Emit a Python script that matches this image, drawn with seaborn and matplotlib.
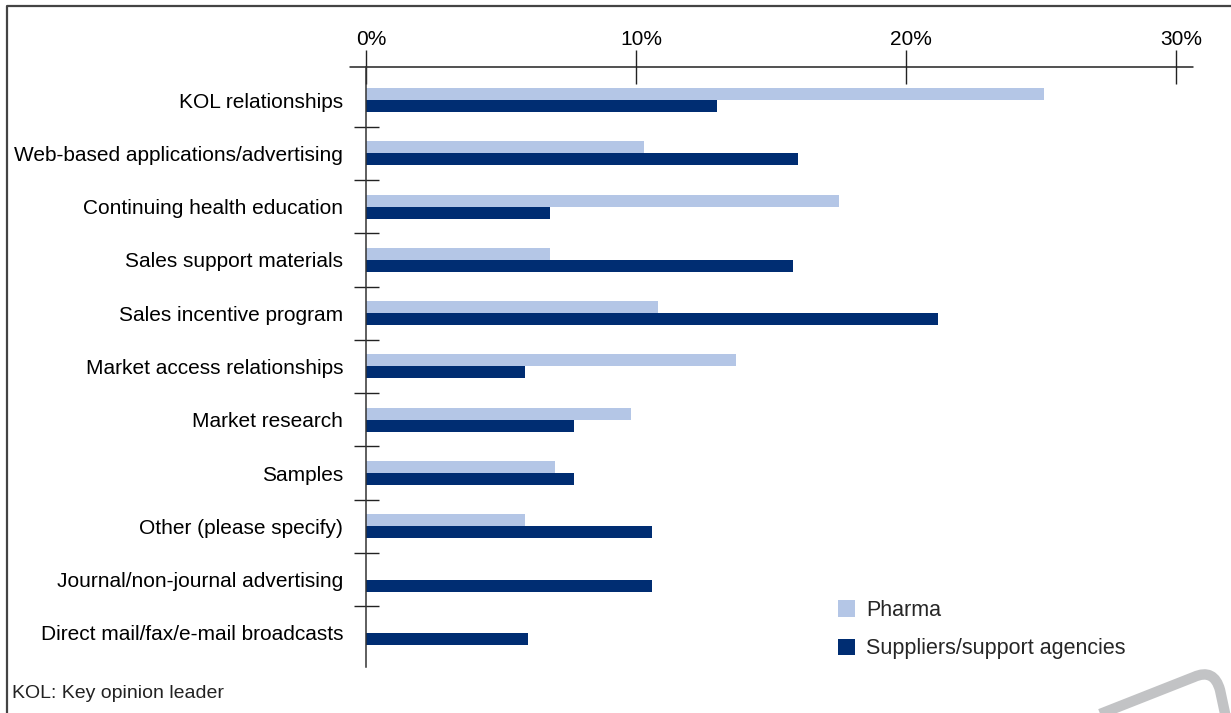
import matplotlib
matplotlib.use("Agg")
import matplotlib.pyplot as plt
import matplotlib.transforms as mtransforms
import seaborn as sns
import pandas as pd
import numpy as np
from matplotlib.path import Path
from matplotlib.patches import PathPatch
from matplotlib.lines import Line2D

categories = [
    "KOL relationships",
    "Web-based applications/advertising",
    "Continuing health education",
    "Sales support materials",
    "Sales incentive program",
    "Market access relationships",
    "Market research",
    "Samples",
    "Other (please specify)",
    "Journal/non-journal advertising",
    "Direct mail/fax/e-mail broadcasts",
]
pharma = [25.1, 10.3, 17.5, 6.8, 10.8, 13.7, 9.8, 7.0, 5.9, 0.0, 0.0]
suppliers = [13.0, 16.0, 6.8, 15.8, 21.2, 5.9, 7.7, 7.7, 10.6, 10.6, 6.0]
series_names = ["Pharma", "Suppliers/support agencies"]
x_ticks = [0, 10, 20, 30]
x_tick_labels = ["0%", "10%", "20%", "30%"]
footnote = "KOL: Key opinion leader"

LIGHT = "#B4C6E6"
NAVY = "#002D72"
W, H = 1231, 713
FS = 15

sns.set_theme(style="white")
plt.rcParams["font.family"] = ["Liberation Sans", "DejaVu Sans"]

df = pd.DataFrame({
    "category": categories * 2,
    "value": pharma + suppliers,
    "series": [series_names[0]] * len(categories) + [series_names[1]] * len(categories),
})

fig = plt.figure(figsize=(W / 100, H / 100), dpi=100)
ax = fig.add_axes([366 / W, 1 - 667 / H, (1176 - 366) / W, (667 - 67) / H])

sns.barplot(data=df, y="category", x="value", hue="series", hue_order=series_names,
            order=categories, palette=[LIGHT, NAVY], width=0.45, orient="h",
            saturation=1, linewidth=0, ax=ax, legend=True)

ax.set_xlim(0, 30)
ax.set_ylim(10.64, -0.62)
ax.set_xlabel("")
ax.set_ylabel("")

for s in ["right", "bottom", "top"]:
    ax.spines[s].set_visible(False)
ax.spines["left"].set_color("#333333")
ax.spines["left"].set_linewidth(1.1)

# top axis line extending a bit beyond the plot
ax.plot([(350 - 366) / 810, (1193 - 366) / 810], [1, 1], transform=ax.transAxes,
        color="#222222", lw=1.1, clip_on=False)

ax.xaxis.tick_top()
ax.set_xticks(x_ticks)
ax.set_xticklabels(x_tick_labels)
ax.tick_params(axis="x", direction="inout", length=24.5, width=1.0, color="#222222",
               pad=1, labelsize=FS, labelcolor="black")
shift = mtransforms.ScaledTranslation(5 / 100, 0, fig.dpi_scale_trans)
for lbl in ax.get_xticklabels():
    lbl.set_transform(lbl.get_transform() + shift)

ax.set_yticks(range(len(categories)))
ax.set_yticklabels(categories)
ax.tick_params(axis="y", which="major", length=0, pad=16.5, labelsize=FS, labelcolor="black")
ax.set_yticks(np.arange(0.5, len(categories) - 1, 1.0), minor=True)
ax.tick_params(axis="y", which="minor", left=True, direction="inout", length=18, width=1.0,
               color="#222222")

sns.move_legend(ax, loc="upper left", bbox_to_anchor=(838 / W, 1 - 600 / H),
                bbox_transform=fig.transFigure, frameon=False, title=None,
                fontsize=15.5, handlelength=0.8, handleheight=0.8, handletextpad=0.5,
                labelspacing=0.8, borderpad=0, borderaxespad=0)

fig.text(12 / W, 1 - 693 / H, footnote, ha="left", va="center", fontsize=14, color="#222222")

# figure border (top and left)
fig.add_artist(Line2D([7 / W, 7 / W, 1.0], [0.0, 1 - 6 / H, 1 - 6 / H],
                      transform=fig.transFigure, color="#444444", lw=1.6))

# decorative grey swoosh in bottom-right corner
pts = [(1090, 718), (1194, 677), (1214, 668), (1220, 690), (1226, 718)]
verts = [(x / W, 1 - y / H) for x, y in pts]
codes = [Path.MOVETO, Path.LINETO, Path.CURVE3, Path.CURVE3, Path.LINETO]
fig.add_artist(PathPatch(Path(verts, codes), transform=fig.transFigure, fill=False,
                         edgecolor="#C2C3C5", lw=7.5, capstyle="butt", joinstyle="round"))

fig.savefig("out.png", dpi=100)
